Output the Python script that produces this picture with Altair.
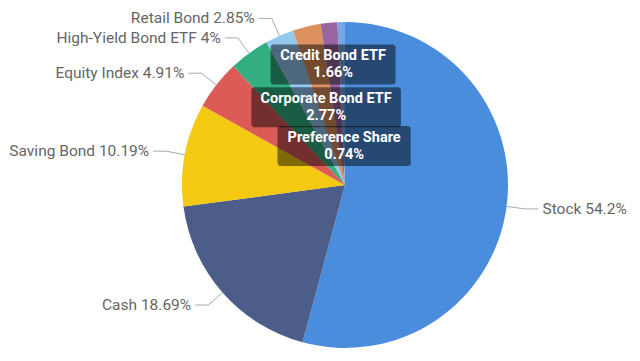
import json
import altair as alt
import pandas as pd

categories = ["Stock", "Cash", "Saving Bond", "Equity Index", "High-Yield Bond ETF",
              "Retail Bond", "Corporate Bond ETF", "Credit Bond ETF", "Preference Share"]
values = [54.2, 18.69, 10.19, 4.91, 4, 2.85, 2.77, 1.66, 0.74]
colors = ["#4A8DDC", "#4C5D8A", "#F3C911", "#DC5B57", "#33AE81",
          "#95C8F0", "#DD915F", "#9A64A0", "#73A9E8"]
inside_labels = ["Credit Bond ETF", "Corporate Bond ETF", "Preference Share"]

df = pd.DataFrame({"idx": list(range(len(categories))), "name": categories, "value": values})

W, H = 624, 345
CX, CY, R = 337, 177, 163
R_ELBOW = 182
FONT = "Roboto"

base = alt.Chart(df).transform_joinaggregate(
    total="sum(value)"
).transform_window(
    cum="sum(value)", sort=[alt.SortField("idx")], frame=[None, 0]
).transform_calculate(
    mid="(datum.cum - datum.value / 2) / datum.total * 2 * PI",
    inside=f"indexof({json.dumps(inside_labels)}, datum.name) >= 0",
    lbl="datum.name + ' ' + toString(datum.value) + '%'",
    box="datum.name + '\\n' + toString(datum.value) + '%'",
).transform_calculate(
    ax=f"{CX} + {R} * sin(datum.mid)",
    ay=f"{CY} - {R} * cos(datum.mid)",
    ex=f"{CX} + {R_ELBOW} * sin(datum.mid)",
    ey=f"{CY} - {R_ELBOW} * cos(datum.mid)",
    side="sin(datum.mid) > 0 ? 1 : -1",
).transform_calculate(
    hx="datum.ex + datum.side * 13",
    tx="datum.ex + datum.side * 17",
)

pie = alt.Chart(df).mark_arc(outerRadius=R).encode(
    theta=alt.Theta("value:Q", stack=True),
    color=alt.Color("name:N", scale=alt.Scale(domain=categories, range=colors), legend=None),
    order=alt.Order("idx:Q"),
    x=alt.value(CX),
    y=alt.value(CY),
)

outside = base.transform_filter("!datum.inside")

radial = outside.mark_rule(color="#AAAAAA", strokeWidth=1).encode(
    x=alt.X("ax:Q", scale=None), y=alt.Y("ay:Q", scale=None),
    x2="ex:Q", y2="ey:Q",
)
horiz = outside.mark_rule(color="#AAAAAA", strokeWidth=1).encode(
    x=alt.X("ex:Q", scale=None), y=alt.Y("ey:Q", scale=None),
    x2="hx:Q", y2="ey:Q",
)
txt_right = outside.transform_filter("datum.side > 0").mark_text(
    align="left", baseline="middle", font=FONT, fontSize=15.5, color="#666666"
).encode(x=alt.X("tx:Q", scale=None), y=alt.Y("ey:Q", scale=None), text="lbl:N")
txt_left = outside.transform_filter("datum.side < 0").mark_text(
    align="right", baseline="middle", font=FONT, fontSize=15.5, color="#666666"
).encode(x=alt.X("tx:Q", scale=None), y=alt.Y("ey:Q", scale=None), text="lbl:N")

inner = base.transform_filter("datum.inside").transform_calculate(
    rin="datum.name == 'Credit Bond ETF' ? 121 : (datum.name == 'Corporate Bond ETF' ? 80 : 39)"
).transform_calculate(
    bx=f"{CX} + datum.rin * sin(datum.mid)",
    by=f"{CY} - datum.rin * cos(datum.mid)",
    bw="length(datum.name) * 8.2 + 2",
).transform_calculate(
    bx1="datum.bx - datum.bw / 2", bx2="datum.bx + datum.bw / 2",
    by1="datum.by - 20", by2="datum.by + 20",
)
boxes = inner.mark_rect(color="#000000", opacity=0.48, cornerRadius=3).encode(
    x=alt.X("bx1:Q", scale=None), x2="bx2:Q",
    y=alt.Y("by1:Q", scale=None), y2="by2:Q",
)
box_text = inner.mark_text(
    align="center", baseline="middle", font=FONT, fontSize=14.5, fontWeight="bold",
    color="white", lineBreak="\n", lineHeight=17, dy=-8.5,
).encode(x=alt.X("bx:Q", scale=None), y=alt.Y("by:Q", scale=None), text="box:N")

chart = alt.layer(pie, radial, horiz, txt_right, txt_left, boxes, box_text).properties(
    width=W, height=H, padding=0, autosize="none"
).configure_view(stroke=None)

chart.save("out.html", embed_options={"renderer": "svg", "actions": False})
